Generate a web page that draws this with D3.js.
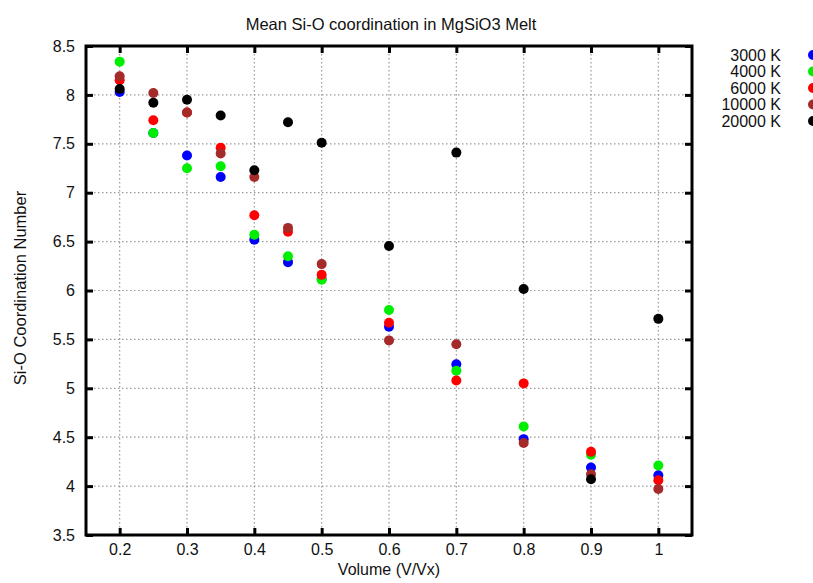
<!DOCTYPE html>
<html><head><meta charset="utf-8">
<script src="https://cdn.jsdelivr.net/npm/d3@7"></script>
<style>body{margin:0;background:#fff}svg{display:block}text{font-family:"Liberation Sans",Arial,Helvetica,sans-serif}</style>
</head><body>
<script>
const volumes = [0.2, 0.25, 0.3, 0.35, 0.4, 0.45, 0.5, 0.6, 0.7, 0.8, 0.9, 1.0];
const seriesNames = ["3000 K", "4000 K", "6000 K", "10000 K", "20000 K"];
const seriesColors = ["#0000ff", "#00ee00", "#ff0000", "#a52a2a", "#000000"];
const t3000  = [8.03, 7.61, 7.38, 7.16, 6.52, 6.29, 6.12, 5.63, 5.245, 4.48, 4.19, 4.11];
const t4000  = [8.34, 7.61, 7.25, 7.27, 6.57, 6.35, 6.11, 5.80, 5.18, 4.61, 4.32, 4.21];
const t6000  = [8.15, 7.74, 7.82, 7.46, 6.77, 6.60, 6.16, 5.67, 5.08, 5.05, 4.35, 4.06];
const t10000 = [8.19, 8.02, 7.82, 7.40, 7.16, 6.64, 6.27, 5.49, 5.45, 4.44, 4.12, 3.97];
const t20000 = [8.06, 7.92, 7.95, 7.79, 7.23, 7.72, 7.51, 6.455, 7.41, 6.015, 4.07, 5.71];
const xTicks = [0.2, 0.3, 0.4, 0.5, 0.6, 0.7, 0.8, 0.9, 1];
const yTicks = [3.5, 4, 4.5, 5, 5.5, 6, 6.5, 7, 7.5, 8, 8.5];
const series = [t3000, t4000, t6000, t10000, t20000];

const W = 813, H = 583;
const L = 86, R = 692, T = 46, B = 535;
const svg = d3.select("body").append("svg").attr("width", W).attr("height", H);
const x = d3.scaleLinear().domain([0.15, 1.05]).range([L, R]);
const y = d3.scaleLinear().domain([3.5, 8.5]).range([B, T]);

// grid
const g = svg.append("g");
g.selectAll("line.vx").data(xTicks).enter().append("line")
  .attr("x1", d => x(d)).attr("x2", d => x(d)).attr("y1", T).attr("y2", B)
  .attr("stroke", "#999").attr("stroke-width", 1.2).attr("stroke-dasharray", "1.5,2.5");
g.selectAll("line.hy").data(yTicks.filter(v => v > 3.5 && v < 8.5)).enter().append("line")
  .attr("x1", L).attr("x2", R).attr("y1", d => y(d)).attr("y2", d => y(d))
  .attr("stroke", "#999").attr("stroke-width", 1.2).attr("stroke-dasharray", "1.5,2.5");

// axes with inward ticks
const fmt = d => d3.format("")(d);
const axB = svg.append("g").attr("transform", `translate(0,${B})`)
  .call(d3.axisBottom(x).tickValues(xTicks).tickSize(-7).tickPadding(9).tickFormat(fmt));
const axT = svg.append("g").attr("transform", `translate(0,${T})`)
  .call(d3.axisTop(x).tickValues(xTicks).tickSize(-7).tickFormat(""));
const axL = svg.append("g").attr("transform", `translate(${L},0)`)
  .call(d3.axisLeft(y).tickValues(yTicks).tickSize(-7).tickPadding(11).tickFormat(fmt));
const axR = svg.append("g").attr("transform", `translate(${R},0)`)
  .call(d3.axisRight(y).tickValues(yTicks).tickSize(-7).tickFormat(""));
[axB, axT, axL, axR].forEach(a => {
  a.select(".domain").remove();
  a.selectAll(".tick line").attr("stroke", "#000").attr("stroke-width", 3);
  a.selectAll("text").attr("font-size", 16).attr("fill", "#111");
});
svg.append("rect").attr("x", L).attr("y", T).attr("width", R - L).attr("height", B - T)
  .attr("fill", "none").attr("stroke", "#000").attr("stroke-width", 3);

// points
series.forEach((vals, i) => {
  svg.append("g").selectAll("circle").data(vals).enter().append("circle")
    .attr("cx", (d, j) => x(volumes[j])).attr("cy", d => y(d)).attr("r", 5)
    .attr("fill", seriesColors[i]);
});

// legend
seriesNames.forEach((n, i) => {
  const ly = 55 + i * 16.5;
  svg.append("text").attr("x", 781).attr("y", ly + 5.5).attr("text-anchor", "end")
    .attr("font-size", 16).attr("fill", "#111").text(n);
  svg.append("circle").attr("cx", 813).attr("cy", ly).attr("r", 5).attr("fill", seriesColors[i]);
});

// titles
svg.append("text").attr("x", 391).attr("y", 30).attr("text-anchor", "middle")
  .attr("font-size", 16.5).attr("fill", "#111").text("Mean Si-O coordination in MgSiO3 Melt");
svg.append("text").attr("x", 389).attr("y", 575).attr("text-anchor", "middle")
  .attr("font-size", 16).attr("fill", "#111").text("Volume (V/Vx)");
svg.append("text").attr("transform", "translate(26,288) rotate(-90)").attr("text-anchor", "middle")
  .attr("font-size", 16.5).attr("fill", "#111").text("Si-O Coordination Number");
</script>
</body></html>
